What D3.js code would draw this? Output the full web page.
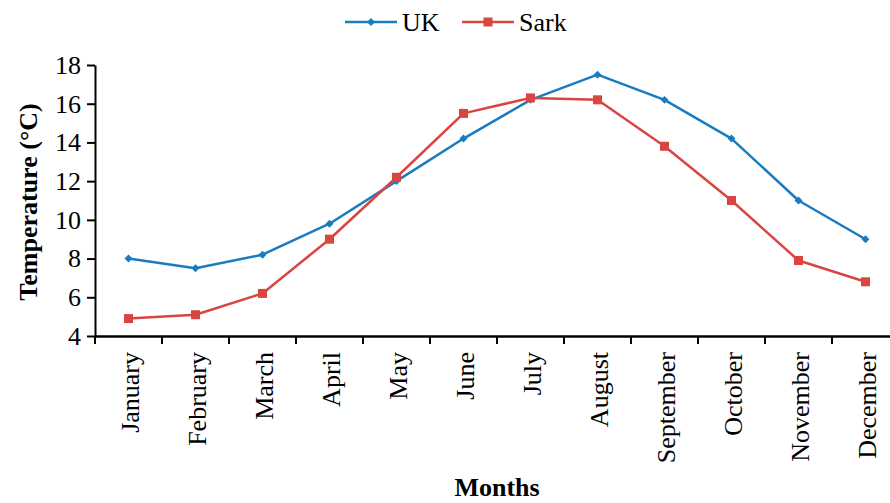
<!DOCTYPE html>
<html>
<head>
<meta charset="utf-8">
<script src="https://cdn.jsdelivr.net/npm/d3@7"></script>
<style>
  body { margin: 0; background: #fff; }
  svg { display: block; font-family: "Liberation Serif", "Times New Roman", serif; }
</style>
</head>
<body>
<div id="chart"></div>
<script>
// Monthly temperature, UK vs Sark

const months = ["January", "February", "March", "April", "May", "June",
  "July", "August", "September", "October", "November", "December"]
const ukTemps = [8.0, 7.5, 8.2, 9.8, 12.0, 14.2, 16.2, 17.5, 16.2, 14.2, 11.0, 9.0]
const sarkTemps = [4.9, 5.1, 6.2, 9.0, 12.2, 15.5, 16.3, 16.2, 13.8, 11.0, 7.9, 6.8]
const yTicks = [4, 6, 8, 10, 12, 14, 16, 18]

const width = 890, height = 503
const serif = '"Liberation Serif", "Times New Roman", serif'

const series = [
  { name: "UK", values: ukTemps, color: "#1b7bc0", marker: "diamond" },
  { name: "Sark", values: sarkTemps, color: "#d94541", marker: "square" }
]

const x = d3.scaleBand()
    .domain(months)
    .range([95, 899])

const y = d3.scaleLinear()
    .domain([4, 18])
    .range([336, 65])

const svg = d3.select('#chart')
  .append('svg')
    .attr('width', width)
    .attr('height', height)

// axes
svg.append('g')
    .attr('transform', 'translate(95,0)')
    .call(d3.axisLeft(y).tickValues(yTicks).tickSize(8).tickSizeOuter(0).tickPadding(6))
    .attr('font-family', serif)
    .attr('font-size', 26)
    .call(g => g.select('.domain').attr('stroke-width', 2))
    .call(g => g.selectAll('.tick line').attr('stroke-width', 2))
    .call(g => g.selectAll('.tick text').attr('fill', '#000'))

svg.append('g')
    .attr('transform', 'translate(0,336)')
    .call(d3.axisBottom(x).tickSize(0).tickSizeOuter(0).tickFormat(''))
    .call(g => g.select('.domain').attr('stroke-width', 2.5))

// x ticks sit on band boundaries
svg.append('g')
    .selectAll('line')
    .data(months)
    .join('line')
    .attr('x1', d => x(d))
    .attr('x2', d => x(d))
    .attr('y1', 336)
    .attr('y2', 344)
    .attr('stroke', '#000')
    .attr('stroke-width', 2)

svg.append('g')
    .selectAll('text')
    .data(months)
    .join('text')
    .attr('transform', d => 'translate(' + (x(d) + x.bandwidth() / 2 + 10) + ',352) rotate(-90)')
    .attr('text-anchor', 'end')
    .attr('font-size', 26)
    .text(d => d)

// axis titles
svg.append('text')
    .attr('transform', 'translate(37,202) rotate(-90)')
    .attr('text-anchor', 'middle')
    .attr('font-size', 26)
    .attr('font-weight', 'bold')
    .text('Temperature (°C)')

svg.append('text')
    .attr('x', 497)
    .attr('y', 496)
    .attr('text-anchor', 'middle')
    .attr('font-size', 26)
    .attr('font-weight', 'bold')
    .text('Months')

// lines
const line = d3.line()
    .x((d, i) => x(months[i]) + x.bandwidth() / 2)
    .y(d => y(d))

const drawMarker = function(g, s, cx, cy) {
  if (s.marker === 'diamond') {
    g.append('path')
      .attr('d', d3.symbol(d3.symbolDiamond2, 40)())
      .attr('transform', 'translate(' + cx + ',' + cy + ')')
      .attr('fill', s.color)
  } else {
    g.append('rect')
      .attr('x', cx - 4.5)
      .attr('y', cy - 4.5)
      .attr('width', 9)
      .attr('height', 9)
      .attr('fill', s.color)
  }
}

series.forEach(s => {
  const g = svg.append('g')
  g.append('path')
    .attr('d', line(s.values))
    .attr('fill', 'none')
    .attr('stroke', s.color)
    .attr('stroke-width', 2.5)
    .attr('stroke-linejoin', 'round')
  s.values.forEach((v, i) => drawMarker(g, s, x(months[i]) + x.bandwidth() / 2, y(v)))
})

// legend
const legendX = [345, 462]
series.forEach((s, i) => {
  const g = svg.append('g')
  g.append('line')
    .attr('x1', legendX[i])
    .attr('x2', legendX[i] + 52)
    .attr('y1', 22)
    .attr('y2', 22)
    .attr('stroke', s.color)
    .attr('stroke-width', 2.5)
  drawMarker(g, s, legendX[i] + 26, 22)
  g.append('text')
    .attr('x', legendX[i] + 57)
    .attr('y', 31)
    .attr('font-size', 26)
    .text(s.name)
})
</script>
</body>
</html>
